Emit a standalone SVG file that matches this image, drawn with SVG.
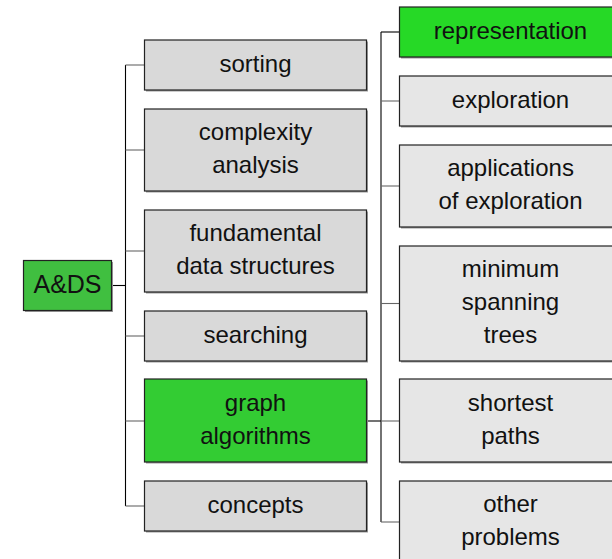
<svg xmlns="http://www.w3.org/2000/svg" width="612" height="559" viewBox="0 0 612 559">
<style>
text{font-family:"Liberation Sans",Arial,sans-serif;font-size:24px;fill:#111;text-anchor:middle}
.sh{fill:#9a9a9a}
.box{stroke:#222;stroke-width:1.2}
.l{fill:#d9d9d9}
.r{fill:#e6e6e6}
.c{fill:none;stroke:#000;stroke-width:1.1}
.g{fill:none;stroke:#666;stroke-width:1.1}
</style>
<rect width="612" height="559" fill="#fff"/>
<g id="connectors">
<line class="c" x1="112" y1="285.5" x2="125.5" y2="285.5"/>
<line class="c" x1="125.5" y1="65" x2="125.5" y2="506"/>
<line class="g" x1="125.5" y1="65" x2="144.5" y2="65"/>
<line class="g" x1="125.5" y1="150" x2="144.5" y2="150"/>
<line class="g" x1="125.5" y1="251" x2="144.5" y2="251"/>
<line class="g" x1="125.5" y1="336" x2="144.5" y2="336"/>
<line class="g" x1="125.5" y1="421" x2="144.5" y2="421"/>
<line class="g" x1="125.5" y1="506" x2="144.5" y2="506"/>
<line class="c" x1="367" y1="421" x2="381" y2="421" stroke-width="1.6"/>
<line class="c" x1="381" y1="32" x2="381" y2="522"/>
<line class="c" x1="381" y1="32" x2="399.5" y2="32"/>
<line class="g" x1="381" y1="101" x2="399.5" y2="101"/>
<line class="g" x1="381" y1="186" x2="399.5" y2="186"/>
<line class="g" x1="381" y1="303.5" x2="399.5" y2="303.5"/>
<line class="g" x1="381" y1="421" x2="399.5" y2="421"/>
<line class="g" x1="381" y1="522" x2="399.5" y2="522"/>
</g>
<g id="ads">
<rect class="sh" x="25" y="262" width="88" height="50"/>
<rect class="box" x="23.5" y="260.5" width="88" height="50" fill="#40bf40" stroke="#000"/>
<text x="67.5" y="293" style="font-size:25px">A&amp;DS</text>
</g>
<g id="sorting">
<rect class="sh" x="146" y="41.5" width="222" height="50"/>
<rect class="box l" x="144.5" y="40" width="222" height="50"/>
<text x="255.5" y="71.5">sorting</text>
</g>
<g id="complexity">
<rect class="sh" x="146" y="110.5" width="222" height="82"/>
<rect class="box l" x="144.5" y="109" width="222" height="82"/>
<text x="255.5" y="140">complexity</text>
<text x="255.5" y="173">analysis</text>
</g>
<g id="fundamental">
<rect class="sh" x="146" y="211.5" width="222" height="82"/>
<rect class="box l" x="144.5" y="210" width="222" height="82"/>
<text x="255.5" y="241">fundamental</text>
<text x="255.5" y="274">data structures</text>
</g>
<g id="searching">
<rect class="sh" x="146" y="312.5" width="222" height="50"/>
<rect class="box l" x="144.5" y="311" width="222" height="50"/>
<text x="255.5" y="342.5">searching</text>
</g>
<g id="graph">
<rect class="sh" x="146" y="380.5" width="222" height="83"/>
<rect class="box" x="144.5" y="379" width="222" height="83" fill="#33cc33" stroke="#000"/>
<text x="255.5" y="411">graph</text>
<text x="255.5" y="444">algorithms</text>
</g>
<g id="concepts">
<rect class="sh" x="146" y="482.5" width="222" height="50"/>
<rect class="box l" x="144.5" y="481" width="222" height="50"/>
<text x="255.5" y="512.5">concepts</text>
</g>
<g id="representation">
<rect class="sh" x="401" y="8.5" width="222" height="50"/>
<rect class="box" x="399.5" y="7" width="222" height="50" fill="#26d926" stroke="#000"/>
<text x="510.5" y="38.5">representation</text>
</g>
<g id="exploration">
<rect class="sh" x="401" y="77.5" width="222" height="50"/>
<rect class="box r" x="399.5" y="76" width="222" height="50"/>
<text x="510.5" y="107.5">exploration</text>
</g>
<g id="applications">
<rect class="sh" x="401" y="146.5" width="222" height="82"/>
<rect class="box r" x="399.5" y="145" width="222" height="82"/>
<text x="510.5" y="176">applications</text>
<text x="510.5" y="209">of exploration</text>
</g>
<g id="mst">
<rect class="sh" x="401" y="247.5" width="222" height="115"/>
<rect class="box r" x="399.5" y="246" width="222" height="115"/>
<text x="510.5" y="277">minimum</text>
<text x="510.5" y="310">spanning</text>
<text x="510.5" y="343">trees</text>
</g>
<g id="shortest">
<rect class="sh" x="401" y="380.5" width="222" height="83"/>
<rect class="box r" x="399.5" y="379" width="222" height="83"/>
<text x="510.5" y="411">shortest</text>
<text x="510.5" y="444">paths</text>
</g>
<g id="other">
<rect class="sh" x="401" y="482.5" width="222" height="82"/>
<rect class="box r" x="399.5" y="481" width="222" height="82"/>
<text x="510.5" y="512">other</text>
<text x="510.5" y="545">problems</text>
</g>
</svg>
